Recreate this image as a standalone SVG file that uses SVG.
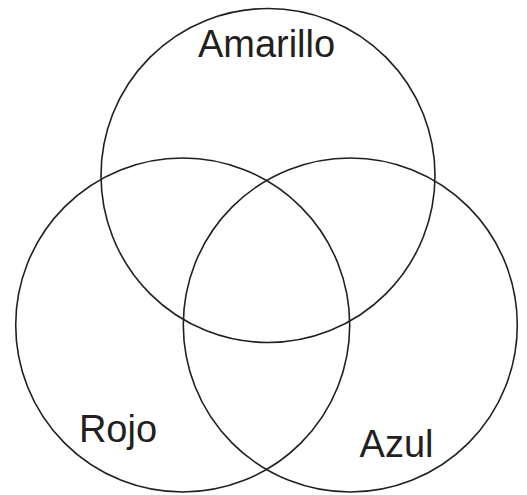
<svg xmlns="http://www.w3.org/2000/svg" width="527" height="495" viewBox="0 0 527 495">
<style>
.c{fill:none;stroke:#231f20;stroke-width:1.6}
.t{font-family:"Liberation Sans",Arial,sans-serif;font-size:38px;fill:#231f20;text-anchor:middle}
</style>
<rect width="527" height="495" fill="#fff"/>
<g id="amarillo">
<circle class="c" cx="268" cy="175.5" r="167"/>
<text class="t" x="266.5" y="57">Amarillo</text>
</g>
<g id="rojo">
<circle class="c" cx="182.7" cy="325" r="167"/>
<text class="t" x="118" y="442">Rojo</text>
</g>
<g id="azul">
<circle class="c" cx="350.3" cy="325" r="167"/>
<text class="t" x="396.5" y="456.5">Azul</text>
</g>
<g id="connectors"></g>
</svg>
